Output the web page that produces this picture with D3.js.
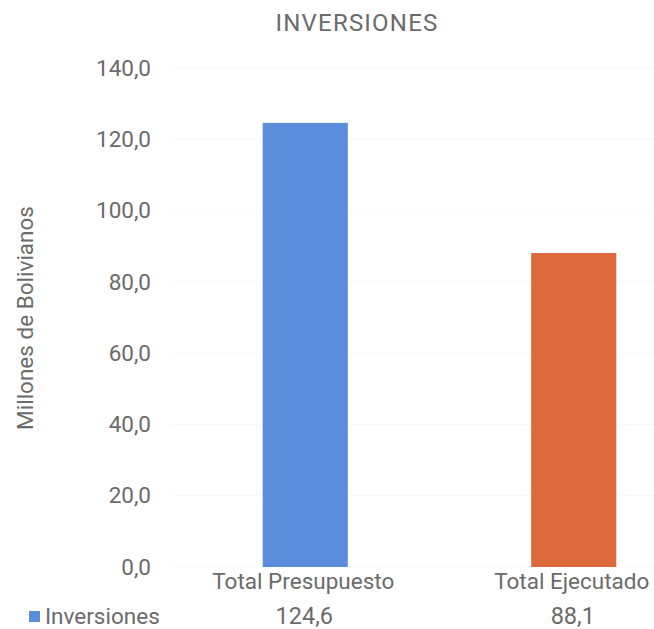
<!DOCTYPE html>
<html>
<head>
<meta charset="utf-8">
<script src="https://cdn.jsdelivr.net/npm/d3@7"></script>
<style>
  html, body { margin: 0; padding: 0; background: #fff; }
  svg text { font-family: Roboto, "Noto Sans", sans-serif; }
</style>
</head>
<body>
<svg id="chart" width="654" height="629"></svg>
<script>
// data
var categories = ["Total Presupuesto", "Total Ejecutado"];
var values = [124.6, 88.1];
var valueLabels = ["124,6", "88,1"];
var seriesName = "Inversiones";
var barColors = ["#5a8edb", "#dd6a3c"];
var yTicks = [0, 20, 40, 60, 80, 100, 120, 140];

var svg = d3.select("#chart");
var textColor = "#6b6b6b";

// scales
var y = d3.scaleLinear().domain([0, 140]).range([567, 68]);
var x = d3.scaleBand()
    .domain(categories)
    .range([171, 708])
    .paddingInner(0.683)
    .paddingOuter(0.3415);

var fmt = function(d){ return d3.format(".1f")(d).replace(".", ","); };

// faint gridlines
svg.append("g")
    .selectAll("line")
    .data(yTicks)
    .join("line")
    .attr("x1", 171)
    .attr("x2", 654)
    .attr("y1", function(d){ return y(d); })
    .attr("y2", function(d){ return y(d); })
    .attr("stroke", "#f8f8f8")
    .attr("stroke-width", 1);

// y axis
var yAxis = svg.append("g")
    .attr("transform", "translate(151,0)")
    .call(d3.axisLeft(y).tickValues(yTicks).tickFormat(fmt).tickSize(0).tickPadding(0));
yAxis.select(".domain").remove();
yAxis.selectAll("text")
    .attr("font-size", 22.5)
    .attr("fill", textColor)
    .attr("font-family", "Roboto, sans-serif");

// bars
svg.append("g")
    .selectAll("rect")
    .data(values)
    .join("rect")
    .attr("x", function(d, i){ return x(categories[i]); })
    .attr("y", function(d){ return y(d); })
    .attr("width", x.bandwidth())
    .attr("height", function(d){ return y(0) - y(d); })
    .attr("fill", function(d, i){ return barColors[i]; });

// category labels (data table header)
svg.append("g")
    .selectAll("text")
    .data(categories)
    .join("text")
    .attr("x", function(d){ return x(d) + x.bandwidth()/2 - 2; })
    .attr("y", 589)
    .attr("text-anchor", "middle")
    .attr("font-size", 22.5)
    .attr("fill", textColor)
    .text(function(d){ return d; });

// data table values
svg.append("g")
    .selectAll("text")
    .data(valueLabels)
    .join("text")
    .attr("x", function(d, i){ return x(categories[i]) + x.bandwidth()/2 - 1; })
    .attr("y", 624)
    .attr("text-anchor", "middle")
    .attr("font-size", 23.5)
    .attr("fill", textColor)
    .text(function(d){ return d; });

// legend key
svg.append("rect")
    .attr("x", 29)
    .attr("y", 611)
    .attr("width", 11)
    .attr("height", 11)
    .attr("fill", barColors[0]);
svg.append("text")
    .attr("x", 45)
    .attr("y", 624)
    .attr("font-size", 22.5)
    .attr("fill", textColor)
    .text(seriesName);

// title
svg.append("text")
    .attr("x", 357)
    .attr("y", 31)
    .attr("text-anchor", "middle")
    .attr("font-size", 24)
    .attr("letter-spacing", 1.2)
    .attr("fill", textColor)
    .text("INVERSIONES");

// y axis title
svg.append("text")
    .attr("transform", "translate(33,318) rotate(-90)")
    .attr("text-anchor", "middle")
    .attr("font-size", 22.5)
    .attr("fill", textColor)
    .text("Millones de Bolivianos");
</script>
</body>
</html>
